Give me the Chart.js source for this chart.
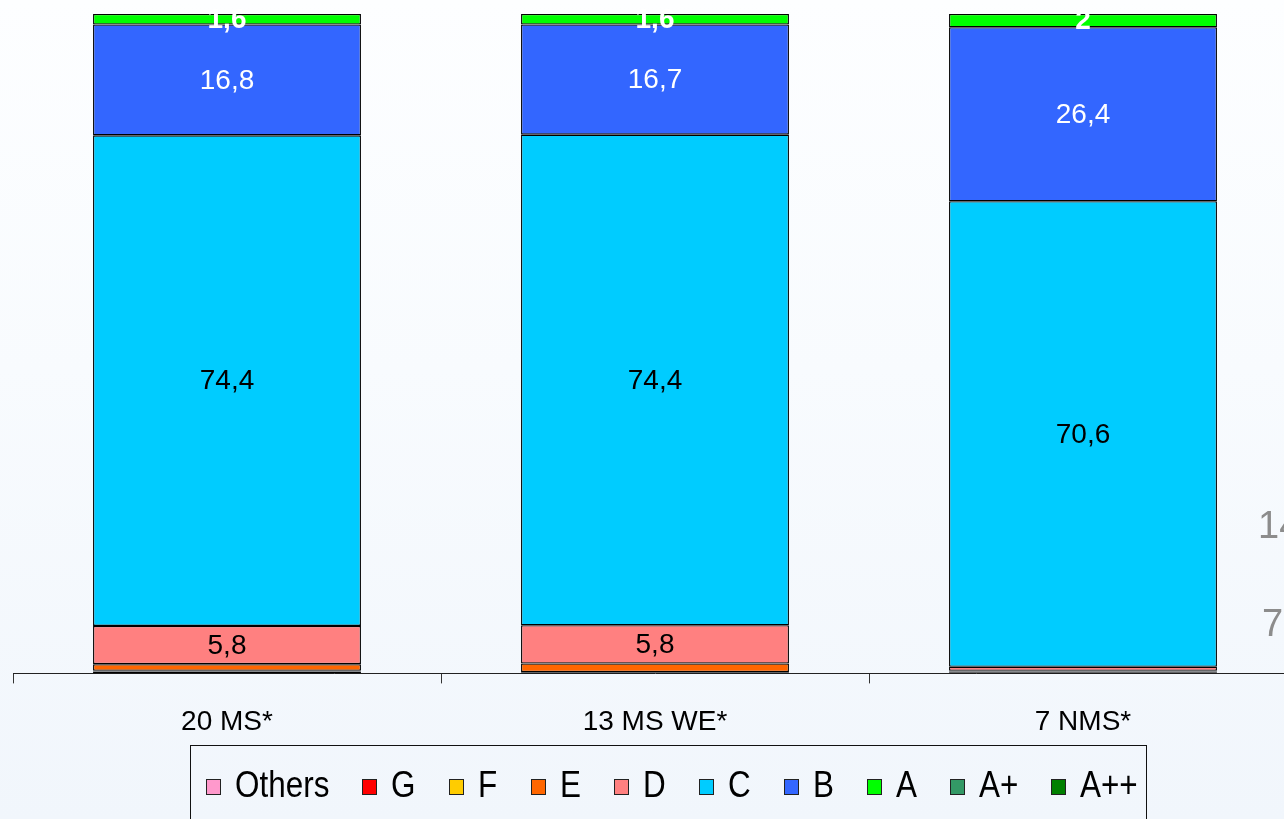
<!DOCTYPE html>
<html>
<head>
<meta charset="utf-8">
<script src="https://cdn.jsdelivr.net/npm/chart.js@4.4.1/dist/chart.umd.min.js"></script>
<style>
html,body{margin:0;padding:0;width:1284px;height:819px;overflow:hidden;}
body{position:relative;background:linear-gradient(180deg,#fdfeff 0%,#f8fbfe 45%,#f1f6fc 100%);font-family:"Liberation Sans",Arial,sans-serif;}
#wrap{position:absolute;left:0;top:0;width:1310px;height:819px;}
#legend{position:absolute;left:190px;top:745px;width:957px;height:78px;border:1.5px solid #111;border-bottom:none;box-sizing:border-box;}
#legend .item{position:absolute;top:20px;display:flex;align-items:center;font-family:"Liberation Sans",Arial,sans-serif;font-size:37px;line-height:1;color:#000;white-space:nowrap;}
#legend .sw{width:15px;height:16px;border:1.5px solid #222;box-sizing:border-box;margin-right:14px;margin-top:5px;}
#legend .tx{display:inline-block;transform:scaleX(0.85);transform-origin:0 50%;}
.side{position:absolute;color:#8c8c8c;font-size:38px;font-family:"Liberation Sans",Arial,sans-serif;line-height:1;white-space:nowrap;}
</style>
</head>
<body>
<div id="wrap"><canvas id="c" width="1310" height="819"></canvas></div>
<div id="legend"></div>
<div class="side" style="left:1258px;top:506px;">14</div>
<div class="side" style="left:1262px;top:604px;">7</div>
<script>
// ---- data ----
const categories = ['20 MS*', '13 MS WE*', '7 NMS*'];
const seriesNames = ['Others', 'G', 'F', 'E', 'D', 'C', 'B', 'A', 'A+', 'A++'];
const seriesColors = ['#ff99cc', '#ff0000', '#ffcc00', '#ff6600', '#ff8080', '#00ccff', '#3366ff', '#00ff00', '#339966', '#008000'];
const othersValues = [0.2, 0.1, 0.1];
const gValues      = [0.1, 0.0, 0.1];
const fValues      = [0.1, 0.1, 0.1];
const eValues      = [1.0, 1.3, 0.1];
const dValues      = [5.8, 5.8, 0.6];
const cValues      = [74.4, 74.4, 70.6];
const bValues      = [16.8, 16.7, 26.4];
const aValues      = [1.6, 1.6, 2];
const aPlusValues  = [0, 0, 0];
const aPlusPlusValues = [0, 0, 0];
const seriesValues = [othersValues, gValues, fValues, eValues, dValues, cValues, bValues, aValues, aPlusValues, aPlusPlusValues];

// label styles for segments that carry value labels
const labelStyles = {
  'A': {color: '#ffffff', weight: 'bold'},
  'B': {color: '#ffffff', weight: 'normal'},
  'C': {color: '#000000', weight: 'normal'},
  'D': {color: '#000000', weight: 'normal'}
};
const labelMin = 1.5;

const datasets = seriesNames.map((name, i) => ({
  label: name,
  data: seriesValues[i],
  backgroundColor: seriesColors[i],
  borderColor: '#000000',
  borderWidth: 1.3,
  borderSkipped: false,
  categoryPercentage: 1.0,
  barPercentage: 0.626
}));

const segLabels = {
  id: 'segLabels',
  afterDatasetsDraw(chart) {
    const ctx = chart.ctx;
    chart.data.datasets.forEach((ds, i) => {
      const st = labelStyles[ds.label];
      if (!st) return;
      const meta = chart.getDatasetMeta(i);
      meta.data.forEach((bar, j) => {
        const v = ds.data[j];
        if (v < labelMin) return;
        const p = bar.getProps(['x', 'y', 'base'], true);
        ctx.save();
        ctx.font = st.weight + ' 28px "Liberation Sans", Arial, sans-serif';
        ctx.fillStyle = st.color;
        ctx.textAlign = 'center';
        ctx.textBaseline = 'middle';
        ctx.fillText(String(v).replace('.', ','), p.x, (p.y + p.base) / 2 + 1);
        ctx.restore();
      });
    });
  }
};

new Chart(document.getElementById('c'), {
  type: 'bar',
  data: {labels: categories, datasets: datasets},
  options: {
    responsive: false,
    animation: false,
    layout: {padding: {left: 13, right: 13, top: 14, bottom: 58}},
    plugins: {legend: {display: false}, tooltip: {enabled: false}},
    scales: {
      x: {
        stacked: true,
        offset: true,
        grid: {offset: true, drawOnChartArea: false, drawTicks: true, tickLength: 10, color: '#333', lineWidth: 1},
        border: {display: true, color: '#222', width: 1},
        ticks: {color: '#000', padding: 22, font: {size: 28, family: '"Liberation Sans", Arial, sans-serif'}}
      },
      y: {stacked: true, display: false, min: 0, max: 100}
    }
  },
  plugins: [segLabels]
});

// HTML legend built from series arrays, laid out left to right
const legend = document.getElementById('legend');
const itemGap = 33;
const textScale = 0.85;
let xPos = 15;
seriesNames.forEach((name, i) => {
  const it = document.createElement('div');
  it.className = 'item';
  const sw = document.createElement('span');
  sw.className = 'sw';
  sw.style.background = seriesColors[i];
  const tx = document.createElement('span');
  tx.className = 'tx';
  tx.textContent = name;
  it.appendChild(sw);
  it.appendChild(tx);
  it.style.left = xPos + 'px';
  legend.appendChild(it);
  const w = sw.offsetWidth + 14 + tx.offsetWidth * textScale;
  xPos += w + itemGap;
});
</script>
</body>
</html>
